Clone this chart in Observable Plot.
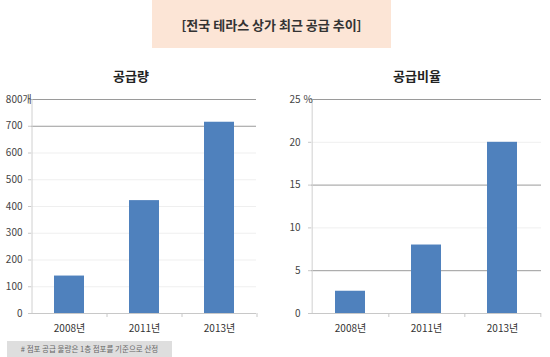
<!DOCTYPE html>
<html><head><meta charset="utf-8">
<script src="https://cdn.jsdelivr.net/npm/d3@7"></script>
<script src="https://cdn.jsdelivr.net/npm/@observablehq/plot@0.6"></script>
<style>
body{margin:0;background:#fff;font-family:"Noto Sans CJK KR","Noto Sans",sans-serif;}
#wrap{position:relative;width:550px;height:357px;overflow:hidden;background:#fff;}
.title{position:absolute;left:152px;top:0;width:239px;height:48px;background:#fce5d6;display:flex;align-items:center;justify-content:center;font-weight:bold;font-size:13px;color:#333;}
.sub{position:absolute;top:67px;width:200px;text-align:center;font-weight:bold;font-size:13px;color:#222;line-height:18px;}
.chart{position:absolute;top:90px;}
.note{position:absolute;left:7px;top:341px;width:165px;height:16px;background:#dedede;color:#666;font-size:7.5px;line-height:16px;text-align:center;}
</style></head>
<body>
<div id="wrap">
  <div class="title">[전국 테라스 상가 최근 공급 추이]</div>
  <div class="sub" style="left:31px">공급량</div>
  <div class="sub" style="left:317px">공급비율</div>
  <div class="chart" id="c1" style="left:0"></div>
  <div class="chart" id="c2" style="left:275px"></div>
  <div class="note"># 점포 공급 물량은 1층 점포를 기준으로 산정</div>
</div>
<script>
const categories = ["2008년", "2011년", "2013년"];
const supplyCount = [140, 422, 715];
const supplyRatio = [2.6, 8.0, 20.0];
const countTicks = [0, 100, 200, 300, 400, 500, 600, 700, 800];
const ratioTicks = [0, 5, 10, 15, 20, 25];
const countUnit = "개";
const ratioUnit = "%";

function chart({values, ticks, unit, ml, mr, strong, pad, unitDx}) {
  const W = 275, H = 250, mt = 9, mb = 27;
  const step = (W - ml - mr) / categories.length;
  const yMax = ticks[ticks.length - 1];
  const data = categories.map((c, i) => ({c, v: values[i]}));
  const grid = ticks.filter(t => t > 0);
  return Plot.plot({
    width: W, height: H, marginLeft: ml, marginRight: mr, marginTop: mt, marginBottom: mb,
    style: {fontFamily: '"Noto Sans CJK KR","Noto Sans",sans-serif', fontSize: "10px", color: "#444", background: "transparent"},
    x: {domain: categories, paddingInner: 0.6, paddingOuter: 0.3, axis: null, label: null},
    y: {domain: [0, yMax], axis: null, label: null},
    marks: [
      Plot.ruleY(grid.filter(t => !strong.includes(t)), {stroke: "#efefef"}),
      Plot.ruleY(grid.filter(t => strong.includes(t)), {stroke: "#9a9a9a"}),
      Plot.barY(data, {x: "c", y: "v", fill: "#4f81bd"}),
      Plot.ruleY([0], {stroke: "#c8c8c8"}),
      Plot.ruleX([categories[0]], {dx: -step / 2, y1: 0, y2: yMax, stroke: "#d0d0d0"}),
      Plot.axisY(ticks, {tickSize: 3, tickPadding: pad, stroke: "#c8c8c8", fill: "#444", label: null}),
      Plot.text([yMax], {y: d => d, frameAnchor: "left", dx: unitDx, text: () => unit, textAnchor: "start", fill: "#444"}),
      Plot.axisX({tickSize: 4, dx: step / 2, tickFormat: () => "", stroke: "#c8c8c8", label: null}),
      Plot.axisX({tickSize: 0, tickPadding: 11, fill: "#333", label: null})
    ]
  });
}

document.getElementById("c1").append(chart({values: supplyCount, ticks: countTicks, unit: countUnit, ml: 31, mr: 19, strong: [700, 800], pad: 6, unitDx: -9}));
document.getElementById("c2").append(chart({values: supplyRatio, ticks: ratioTicks, unit: ratioUnit, ml: 36, mr: 9, strong: [5, 15, 25], pad: 8, unitDx: -8}));
</script>
</body></html>
